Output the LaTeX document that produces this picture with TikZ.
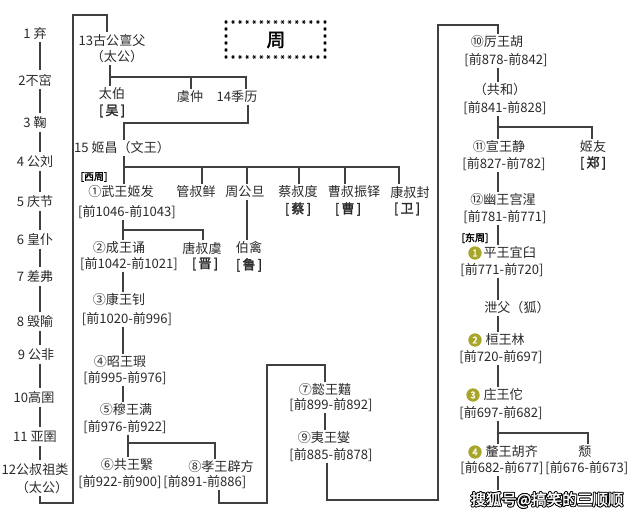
\documentclass[tikz,border=0pt]{standalone}
\usepackage{fontspec}
\setmainfont{Noto Sans CJK SC}[AutoFakeBold=2]
\definecolor{txt}{HTML}{2A2A2A}
\definecolor{lnc}{HTML}{404040}
\definecolor{badgefill}{HTML}{A8A62A}
\begin{document}
\begin{tikzpicture}[x=0.75pt,y=-0.75pt,
  nm/.style={font=\fontsize{9.8}{11}\selectfont, inner sep=1pt, text=txt},
  dt/.style={font=\fontsize{9.8}{11}\selectfont, inner sep=0.5pt, text=txt},
  ln/.style={draw=lnc, line width=0.8pt},
  era/.style={font=\bfseries\fontsize{7.5}{8}\selectfont, inner sep=0.5pt, text=black},
  badge/.style={circle, fill=badgefill, text=white, font=\bfseries\fontsize{7}{7}\selectfont, inner sep=0pt, minimum size=10pt},
  ast/.style={draw=black, line width=0.45pt},
  wm/.style={font=\bfseries\fontsize{11.5}{12}\selectfont, inner sep=0pt},
]
\fill[white] (0,0) rectangle (640,518);
\useasboundingbox (0,0) rectangle (640,518);

% title box
\node[font=\bfseries\fontsize{14}{14}\selectfont, text=black] (title) at (276,40) {周};
\foreach \i in {0,...,14} {
  \draw[ast] ({226+7.07*\i},22) +(0:1.9) -- +(180:1.9) +(60:1.9) -- +(240:1.9) +(120:1.9) -- +(300:1.9);
  \draw[ast] ({226+7.07*\i},57) +(0:1.9) -- +(180:1.9) +(60:1.9) -- +(240:1.9) +(120:1.9) -- +(300:1.9);
}
\foreach \j in {1,...,4} {
  \draw[ast] (226,{22+7*\j}) +(0:1.9) -- +(180:1.9) +(60:1.9) -- +(240:1.9) +(120:1.9) -- +(300:1.9);
  \draw[ast] (325,{22+7*\j}) +(0:1.9) -- +(180:1.9) +(60:1.9) -- +(240:1.9) +(120:1.9) -- +(300:1.9);
}

% left column: generations 1-12
\node[nm] (g1) at (35,33) {1 弃};
\node[nm] (g2) at (35,80) {2不窋};
\node[nm] (g3) at (35,123) {3 鞠};
\node[nm] (g4) at (35,162) {4 公刘};
\node[nm] (g5) at (35,202) {5 庆节};
\node[nm] (g6) at (35,240) {6 皇仆};
\node[nm] (g7) at (35,277) {7 差弗};
\node[nm] (g8) at (35,322) {8 毁隃};
\node[nm] (g9) at (36,355) {9 公非};
\node[nm] (g10) at (34,398) {10高圉};
\node[nm] (g11) at (35,437) {11 亚圉};
\node[nm] (g12) at (35,470) {12公叔祖类};
\node[nm] (g12b) at (42,488) {（太公）};
\coordinate (lx) at (40,0);
\foreach \a/\b in {g1/g2,g2/g3,g3/g4,g4/g5,g5/g6,g6/g7,g7/g8,g8/g9,g9/g10,g10/g11,g11/g12}
  \draw[ln, shorten <=1pt, shorten >=2pt] (lx |- \a.south) -- (lx |- \b.north);

% 13 - 15
\node[nm] (gu) at (112,40) {13古公亶父};
\node[nm] (gub) at (117,57) {（太公）};
\coordinate (lb) at (40,503);
\coordinate (lt) at (73,15);
\coordinate (gux) at (107,15);
\draw[ln] (lx |- g12b.south) -- (lb) -| (lt) -- (gux) -- (gux |- gu.north);

\node[nm] (tb) at (112,94) {太伯};
\node[nm, font=\bfseries\fontsize{9.8}{11}\selectfont] (tbw) at (112,111) {[\,吴\,]};
\node[nm] (yz) at (190,97) {虞仲};
\node[nm] (jl) at (237,97) {14季历};
\coordinate (h1a) at (110,77);
\coordinate (h1m) at (191,77);
\coordinate (h1b) at (246,77);
\draw[ln] (h1a |- gub.south) -- (h1a |- tb.north);
\draw[ln] (h1a) -- (h1b) -- (h1b |- jl.north);
\draw[ln] (h1m) -- (h1m |- yz.north);

\node[nm] (jc) at (122,148) {15 姬昌（文王）};
\coordinate (h2a) at (124,123);
\coordinate (h2b) at (248,123);
\draw[ln] (h2b |- jl.south) -- (h2b) -- (h2a) -- (h2a |- jc.north);

% Western Zhou
\node[era] (xz) at (94,177) {[西周]};
\node[nm] (wu) at (121,192) {①武王姬发};
\node[dt] (wud) at (127,212) {[前1046-前1043]};
\node[nm] (guan) at (196,192) {管叔鲜};
\node[nm] (zhou) at (245,192) {周公旦};
\node[nm] (cai) at (298,192) {蔡叔度};
\node[nm, font=\bfseries\fontsize{9.8}{11}\selectfont] (caib) at (298,209) {[\,蔡\,]};
\node[nm] (cao) at (354,192) {曹叔振铎};
\node[nm, font=\bfseries\fontsize{9.8}{11}\selectfont] (caob) at (348,209) {[\,曹\,]};
\node[nm] (kang) at (410,192) {康叔封};
\node[nm, font=\bfseries\fontsize{9.8}{11}\selectfont] (kangb) at (407,209) {[\,卫\,]};
\coordinate (h3a) at (124,167);
\coordinate (h3b) at (399,167);
\coordinate (t3a) at (202,167);
\coordinate (t3b) at (247,167);
\coordinate (t3c) at (299,167);
\coordinate (t3d) at (345,167);
\draw[ln] (h3a |- jc.south) -- (h3a |- wu.north);
\draw[ln] (h3a) -- (h3b) -- (h3b |- kang.north);
\draw[ln] (t3a) -- (t3a |- guan.north);
\draw[ln] (t3b) -- (t3b |- zhou.north);
\draw[ln] (t3c) -- (t3c |- cai.north);
\draw[ln] (t3d) -- (t3d |- cao.north);

\node[nm] (boq) at (249,248) {伯禽};
\node[nm, font=\bfseries\fontsize{9.8}{11}\selectfont] (boqb) at (249,265) {[\,鲁\,]};
\draw[ln] (t3b |- zhou.south) -- (t3b |- boq.north);

\node[nm] (cheng) at (119,248) {②成王诵};
\node[dt] (chengd) at (129,264) {[前1042-前1021]};
\node[nm] (tang) at (202,248) {唐叔虞};
\node[nm, font=\bfseries\fontsize{9.8}{11}\selectfont] (tangb) at (205,264) {[\,晋\,]};
\coordinate (h4a) at (123,230);
\coordinate (h4b) at (203,230);
\draw[ln] (h4a |- wud.south) -- (h4a |- cheng.north);
\draw[ln] (h4a) -- (h4b) -- (h4b |- tang.north);

\node[nm] (kw) at (119,300) {③康王钊};
\node[dt] (kwd) at (127,319) {[前1020-前996]};
\draw[ln] (h4a |- chengd.south) -- (h4a |- kw.north);

\node[nm] (zhao) at (120,362) {④昭王瑕};
\node[dt] (zhaod) at (125,378) {[前995-前976]};
\draw[ln] (h4a |- kwd.south) -- (h4a |- zhao.north);

\node[nm] (mu) at (126,410) {⑤穆王满};
\node[dt] (mud) at (125,427) {[前976-前922]};
\draw[ln] (h4a |- zhaod.south) -- (h4a |- mu.north);

\node[nm] (gong) at (127,465) {⑥共王繄};
\node[dt] (gongd) at (120,482) {[前922-前900]};
\node[nm] (xiao) at (221,467) {⑧孝王辟方};
\node[dt, anchor=west] (xiaod) at (gongd.east) {[前891-前886]};
\coordinate (h5a) at (128,443);
\coordinate (h5b) at (215,443);
\draw[ln] (h5a |- mud.south) -- (h5a |- gong.north);
\draw[ln] (h5a) -- (h5b) -- (h5b |- xiao.north);

\node[nm] (yi) at (325,390) {⑦懿王囏};
\node[dt] (yid) at (331,405) {[前899-前892]};
\node[nm] (yiw) at (324,438) {⑨夷王燮};
\node[dt] (yiwd) at (331,455) {[前885-前878]};
\coordinate (p1) at (219,503);
\coordinate (p2) at (267,503);
\coordinate (p3) at (267,365);
\coordinate (p4) at (325,365);
\draw[ln] (p1 |- xiaod.south) -- (p1) -- (p2) -- (p3) -- (p4) -- (p4 |- yi.north);
\draw[ln] (p4 |- yid.south) -- (p4 |- yiw.north);

\coordinate (q1) at (327,500);
\coordinate (q2) at (438,500);
\coordinate (q3) at (438,25);
\coordinate (q4) at (498,25);
\node[nm] (li) at (497,42) {⑩厉王胡};
\node[dt] (lid) at (506,60) {[前878-前842]};
\draw[ln] (q1 |- yiwd.south) -- (q1) -- (q2) -- (q3) -- (q4) -- (q4 |- li.north);

% right column
\node[nm] (gh) at (500,90) {（共和）};
\node[dt] (ghd) at (505,108) {[前841-前828]};
\draw[ln] (q4 |- lid.south) -- (q4 |- gh.north);

\node[nm] (xuan) at (499,147) {⑪宣王静};
\node[dt] (xuand) at (504,164) {[前827-前782]};
\node[nm] (jy) at (593,147) {姬友};
\node[nm, font=\bfseries\fontsize{9.8}{11}\selectfont] (jyb) at (593,163) {[\,郑\,]};
\coordinate (h6b) at (592,127);
\draw[ln] (q4 |- ghd.south) -- (q4 |- xuan.north);
\draw[ln] (q4 |- h6b) -- (h6b) -- (h6b |- jy.north);

\node[nm] (you) at (503,200) {⑫幽王宫湦};
\node[dt] (youd) at (505,217) {[前781-前771]};
\draw[ln] (q4 |- xuand.south) -- (q4 |- you.north);

% Eastern Zhou
\node[era] (dz) at (475,238) {[东周]};
\node[badge] (b1) at (475,253) {1};
\node[nm, anchor=west] (ping) at (482,253) {平王宜臼};
\node[dt] (pingd) at (502,270) {[前771-前720]};
\draw[ln] (q4 |- youd.south) -- (q4 |- ping.north);

\node[nm] (xf) at (517,308) {泄父（狐）};
\draw[ln] (q4 |- pingd.south) -- (q4 |- xf.north);

\node[badge] (b2) at (475,340) {2};
\node[nm, anchor=west] (huan) at (484,340) {桓王林};
\node[dt] (huand) at (501,357) {[前720-前697]};
\draw[ln] (q4 |- xf.south) -- (q4 |- huan.north);

\node[badge] (b3) at (473,395) {3};
\node[nm, anchor=west] (zhuang) at (482,395) {庄王佗};
\node[dt] (zhuangd) at (501,413) {[前697-前682]};
\draw[ln] (q4 |- huand.south) -- (q4 |- zhuang.north);

\node[badge] (b4) at (475,452) {4};
\node[nm, anchor=west] (xi) at (484,452) {釐王胡齐};
\node[dt] (xid) at (502,468) {[前682-前677]};
\node[nm] (tui) at (585,452) {颓};
\node[dt, anchor=west] (tuid) at (xid.east) {[前676-前673]};
\coordinate (h7b) at (588,433);
\draw[ln] (q4 |- zhuangd.south) -- (q4 |- xi.north);
\draw[ln] (q4 |- h7b) -- (h7b) -- (h7b |- tui.north);
\coordinate (xe) at (498,490);
\draw[ln] (q4 |- xid.south) -- (xe);

% watermark
\foreach \dx/\dy [count=\i] in {-0.9/0,0.9/0,0/-0.9,0/0.9,-0.7/-0.7,0.7/0.7,-0.7/0.7,0.7/-0.7}
  \node[wm, text=black] (wmo\i) at ({547+\dx},{500+\dy}) {搜狐号@搞笑的三顺顺};
\node[wm, text=white] (wm) at (547,500) {搜狐号@搞笑的三顺顺};
\end{tikzpicture}
\end{document}
